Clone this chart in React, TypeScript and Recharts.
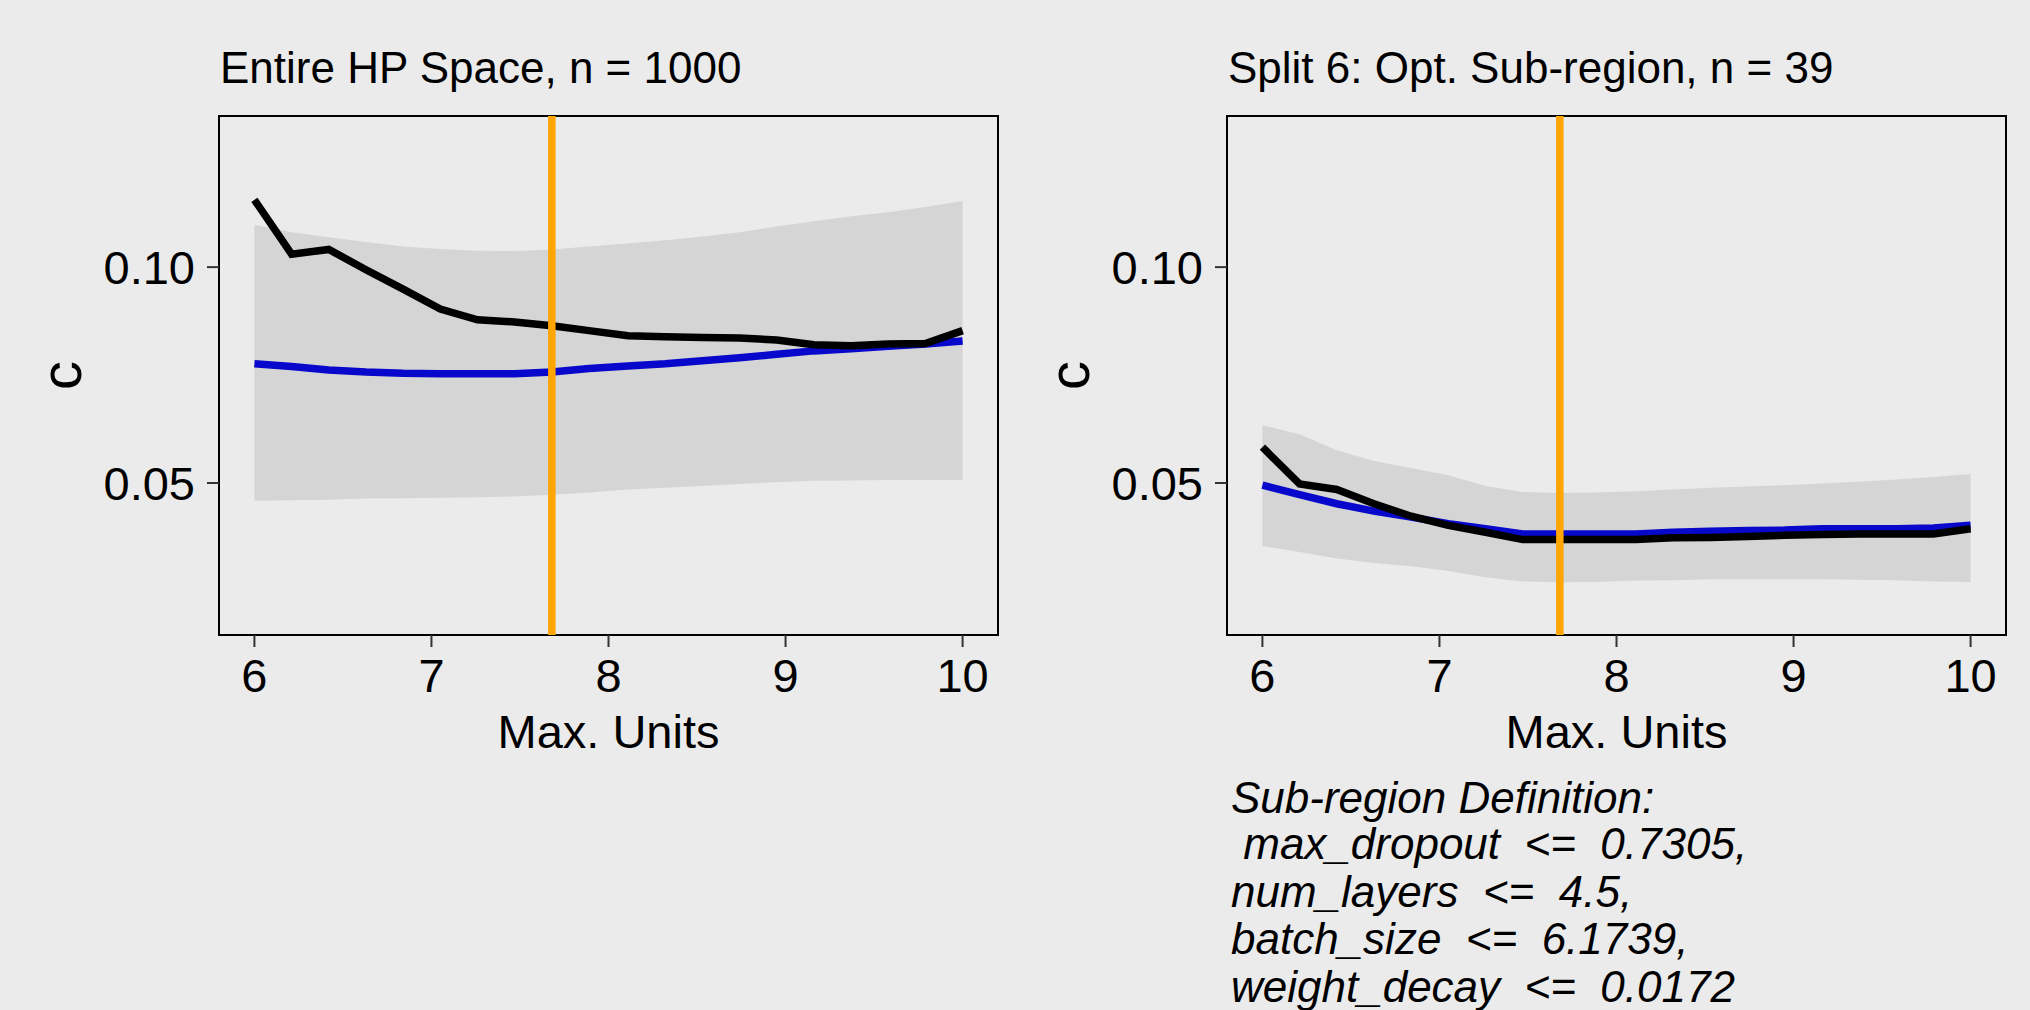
import {
  ComposedChart,
  Area,
  Line,
  XAxis,
  YAxis,
  ReferenceLine,
  ReferenceArea,
} from "recharts";

const FONT = '"Liberation Sans", Arial, sans-serif';

// Max. Units grid (20 points between 6 and 10)
const maxUnits = [
  6.0, 6.21, 6.42, 6.63, 6.84, 7.05, 7.26, 7.47, 7.68, 7.89, 8.11, 8.32, 8.53,
  8.74, 8.95, 9.16, 9.37, 9.58, 9.79, 10.0,
];
const optimumUnits = 7.68;

// Entire HP space, n = 1000
const fullMean = [
  0.1156, 0.103, 0.1041, 0.0994, 0.0949, 0.0903, 0.0878, 0.0873, 0.0864,
  0.0853, 0.0841, 0.0839, 0.0837, 0.0836, 0.0831, 0.082, 0.0818, 0.0822,
  0.0823, 0.0853,
];
const fullFit = [
  0.0776, 0.077, 0.0762, 0.0757, 0.0754, 0.0753, 0.0753, 0.0753, 0.0757,
  0.0765, 0.0771, 0.0776, 0.0783, 0.079, 0.0798, 0.0806, 0.0811, 0.0817,
  0.0822, 0.0829,
];
const fullLower = [
  0.0459, 0.046, 0.0461, 0.0464, 0.0465, 0.0466, 0.0467, 0.0469, 0.0473,
  0.0478, 0.0485, 0.0489, 0.0493, 0.0498, 0.0502, 0.0505, 0.0506, 0.0507,
  0.0507, 0.0507,
];
const fullUpper = [
  0.1098, 0.1081, 0.1069, 0.1058, 0.1048, 0.1042, 0.1038, 0.1037, 0.1041,
  0.1048, 0.1055, 0.1062, 0.1071, 0.1081, 0.1094, 0.1106, 0.1118, 0.1127,
  0.1139, 0.1153,
];

// Split 6: optimal sub-region, n = 39
const subMean = [
  0.0583, 0.0498, 0.0485, 0.0452, 0.0423, 0.0402, 0.0386, 0.0369, 0.0369,
  0.0369, 0.0369, 0.0373, 0.0374, 0.0376, 0.0379, 0.0381, 0.0382, 0.0382,
  0.0382, 0.0394,
];
const subFit = [
  0.0495, 0.0473, 0.0452, 0.0435, 0.0421, 0.0406, 0.0394, 0.0382, 0.0382,
  0.0382, 0.0382, 0.0386, 0.0388, 0.039, 0.0391, 0.0394, 0.0394, 0.0394,
  0.0396, 0.0402,
];
const subLower = [
  0.0354, 0.034, 0.0325, 0.0315, 0.0307, 0.0296, 0.0282, 0.0272, 0.027,
  0.0271, 0.0274, 0.0275, 0.0277, 0.0277, 0.0277, 0.0277, 0.0276, 0.0275,
  0.0272, 0.0271,
];
const subUpper = [
  0.0634, 0.0613, 0.0576, 0.0551, 0.0535, 0.0518, 0.0493, 0.0479, 0.0477,
  0.0478, 0.0481, 0.0485, 0.0489, 0.0492, 0.0495, 0.0499, 0.0503, 0.0508,
  0.0514, 0.0521,
];

const xTicks = [6, 7, 8, 9, 10];
const yTicks = [0.05, 0.1];
const xDomain: [number, number] = [5.8, 10.2];
const yDomain: [number, number] = [0.0148, 0.135];

const definitionLines = [
  "Sub-region Definition:",
  " max_dropout  <=  0.7305,",
  "num_layers  <=  4.5,",
  "batch_size  <=  6.1739,",
  "weight_decay  <=  0.0172",
];

function buildRows(mean: number[], fit: number[], lo: number[], hi: number[]) {
  return maxUnits.map((x, i) => ({
    x,
    mean: mean[i],
    fit: fit[i],
    band: [lo[i], hi[i]],
  }));
}

function YTitle(props: any) {
  const vb = props.viewBox || { x: 0, y: 116, width: 219, height: 519 };
  const bx = vb.x + vb.width - 138;
  const cy = vb.y + vb.height / 2;
  return (
    <text
      x={bx}
      y={cy}
      transform={`rotate(-90, ${bx}, ${cy})`}
      textAnchor="middle"
      fontSize={58}
      fontFamily={FONT}
      fill="#000"
    >
      c
    </text>
  );
}

function Panel({ rows, left }: { rows: any[]; left: number }) {
  return (
    <div style={{ position: "absolute", left, top: 0 }}>
      <ComposedChart
        width={1010}
        height={1010}
        data={rows}
        margin={{ top: 116, right: 12, bottom: 255, left: 0 }}
      >
        <XAxis
          dataKey="x"
          type="number"
          domain={xDomain}
          ticks={xTicks}
          allowDataOverflow
          height={120}
          tickSize={12}
          tickMargin={12}
          axisLine={false}
          tickLine={{ stroke: "#333", strokeWidth: 2 }}
          tick={{ fill: "#000", fontSize: 47, fontFamily: FONT }}
          label={{
            value: "Max. Units",
            position: "insideBottom",
            offset: 7,
            fill: "#000",
            fontSize: 47,
            fontFamily: FONT,
          }}
        />
        <YAxis
          type="number"
          domain={yDomain}
          ticks={yTicks}
          allowDataOverflow
          width={219}
          tickSize={12}
          tickMargin={12}
          axisLine={false}
          tickLine={{ stroke: "#333", strokeWidth: 2 }}
          tick={{ fill: "#000", fontSize: 47, fontFamily: FONT }}
          tickFormatter={(v: number) => v.toFixed(2)}
          label={{ content: YTitle }}
        />
        <Area
          dataKey="band"
          type="linear"
          stroke="none"
          fill="#D5D5D5"
          fillOpacity={1}
          isAnimationActive={false}
        />
        <Line
          dataKey="fit"
          type="linear"
          stroke="#0808CC"
          strokeWidth={7.5}
          dot={false}
          isAnimationActive={false}
        />
        <Line
          dataKey="mean"
          type="linear"
          stroke="#000"
          strokeWidth={7.5}
          dot={false}
          isAnimationActive={false}
        />
        <ReferenceLine x={optimumUnits} stroke="#FFA500" strokeWidth={7.5} />
        <ReferenceArea
          x1={xDomain[0]}
          x2={xDomain[1]}
          y1={yDomain[0]}
          y2={yDomain[1]}
          fill="none"
          fillOpacity={0}
          stroke="#000"
          strokeWidth={2}
        />
      </ComposedChart>
    </div>
  );
}

export default function App() {
  const fullRows = buildRows(fullMean, fullFit, fullLower, fullUpper);
  const subRows = buildRows(subMean, subFit, subLower, subUpper);
  const lineBaselines = [812.7, 859.3, 906.7, 954.3, 1001.7];

  return (
    <div
      style={{
        position: "absolute",
        left: 0,
        top: 0,
        width: 2030,
        height: 1010,
        background: "#EBEBEB",
        overflow: "hidden",
      }}
    >
      <Panel rows={fullRows} left={0} />
      <Panel rows={subRows} left={1008} />
      <svg
        width={2030}
        height={1010}
        style={{ position: "absolute", left: 0, top: 0, pointerEvents: "none" }}
      >
        <text x={220} y={83} fontSize={44} fontFamily={FONT} fill="#000">
          Entire HP Space, n = 1000
        </text>
        <text x={1228} y={83} fontSize={44} fontFamily={FONT} fill="#000">
          Split 6: Opt. Sub-region, n = 39
        </text>
        {definitionLines.map((t, i) => (
          <text
            key={i}
            x={1231}
            y={lineBaselines[i]}
            fontSize={44}
            fontStyle="italic"
            fontFamily={FONT}
            fill="#000"
            style={{ whiteSpace: "pre" }}
          >
            {t}
          </text>
        ))}
      </svg>
    </div>
  );
}
